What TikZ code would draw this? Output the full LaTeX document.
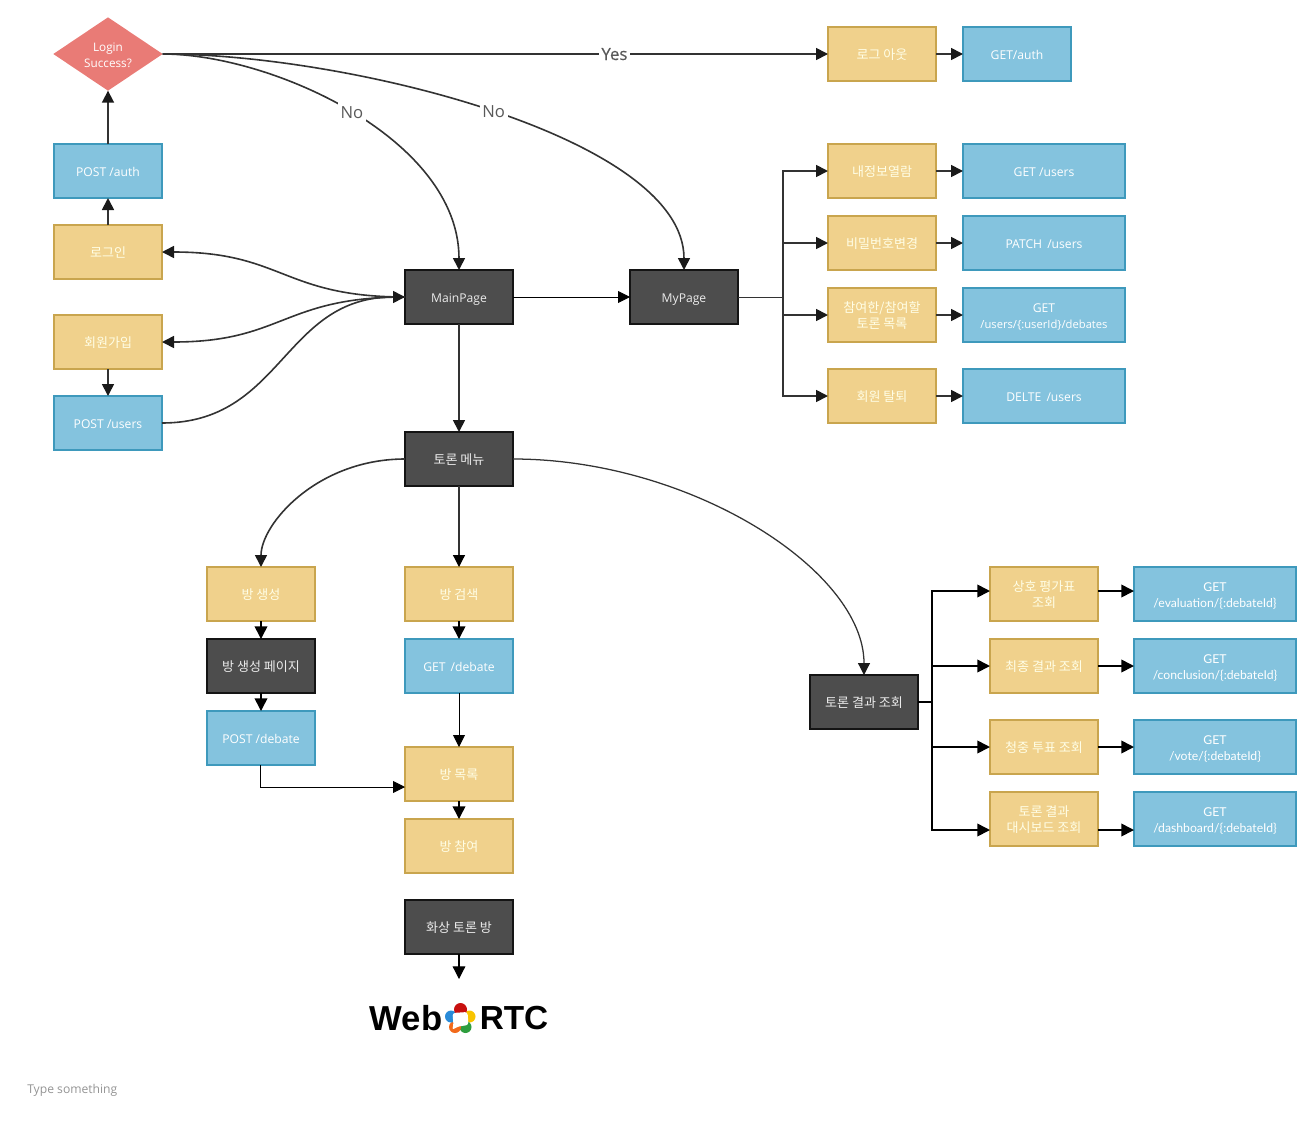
\documentclass[tikz,border=0pt]{standalone}
\usepackage{fontspec}
\setmainfont{Open Sans}
\newfontfamily\kr[Scale=1.075]{Noto Sans CJK KR}
\newfontfamily\logofont{Liberation Sans}
\newfontfamily\latoapi{Lato}
\newfontfamily\semi[FakeBold=0.4]{Open Sans}
\usetikzlibrary{arrows.meta,shapes.geometric}
\definecolor{yfill}{HTML}{F0D18C}
\definecolor{ydraw}{HTML}{C9A54E}
\definecolor{bfill}{HTML}{84C3DE}
\definecolor{bdraw}{HTML}{3E99BC}
\definecolor{dfill}{HTML}{4D4D4D}
\definecolor{ddraw}{HTML}{141414}
\definecolor{rfill}{HTML}{E97B76}
\definecolor{lnk}{HTML}{333333}
\definecolor{tip}{HTML}{1A1A1A}
\tikzset{
  x=0.75pt,y=-0.75pt,
  one/.style={text height=12pt,text depth=3.8pt},
  two/.style={text height=20.4pt,text depth=0pt},
  box/.style={rectangle,one,minimum width=81pt,minimum height=40.5pt,inner sep=0pt,outer sep=0pt,line width=1.5pt,align=center,text=white,font=\fontsize{9.1}{12.4}\selectfont},
  ybox/.style={box,fill=yfill,draw=ydraw,text=white!90!yellow},
  bbox/.style={box,fill=bfill,draw=bdraw},
  dbox/.style={box,fill=dfill,draw=ddraw,text=white!92!black},
  wide/.style={minimum width=121.5pt},
  api/.style={font=\latoapi\fontsize{9.15}{12.4}\selectfont},
  arr/.style={-{Triangle[length=9pt,width=9pt,color=tip]},draw=lnk,line width=1.3pt},
  curve/.style={arr,line width=1.2pt},
  barr/.style={-{Triangle[length=9.5pt,width=9.5pt]},draw=black,line width=1.2pt},
  thin arr/.style={-{Triangle[length=9pt,width=9pt,color=black]},draw=black,line width=.65pt},
  lbl/.style={fill=white,text=black!65,inner sep=2pt,text height=11pt,text depth=2pt,font=\fontsize{12.5}{14}\selectfont},
}
\begin{document}
\begin{tikzpicture}
\useasboundingbox (0,0) rectangle (1314,1125);
% nodes
\node[diamond,aspect=1.5,fill=rfill,minimum width=82pt,minimum height=55pt,inner sep=0pt,outer sep=0pt,align=center,two,text=white,font=\fontsize{8.8}{12}\selectfont] (d) at (108,54) {Login\\Success?};
\node[bbox] (auth) at (108,171) {POST /auth};
\node[ybox] (login) at (108,252) {\kr 로그인};
\node[ybox] (join) at (108,342) {\kr 회원가입};
\node[bbox] (pusers) at (108,423) {POST /users};
\node[dbox] (main) at (459,297) {MainPage};
\node[dbox] (my) at (684,297) {MyPage};
\node[dbox] (menu) at (459,459) {\kr 토론 메뉴};
\node[ybox] (logout) at (882,54) {\kr 로그 아웃};
\node[bbox] (gauth) at (1017,54) {GET/auth};
\node[ybox] (info) at (882,171) {\kr 내정보열람};
\node[bbox,wide] (gusers) at (1044,171) {GET /users};
\node[ybox] (pw) at (882,243) {\kr 비밀번호변경};
\node[bbox,wide] (patch) at (1044,243) {PATCH \,/users};
\node[ybox,two] (list) at (882,315) {\kr 참여한/참여할\\\kr 토론 목록};
\node[bbox,wide,two] (gdeb) at (1044,315) {GET\\\fontsize{8.4}{12.4}\selectfont /users/\{:userId\}/debates};
\node[ybox] (quit) at (882,396) {\kr 회원 탈퇴};
\node[bbox,wide] (del) at (1044,396) {DELTE \,/users};
\node[ybox] (mk) at (261,594) {\kr 방 생성};
\node[dbox] (mkp) at (261,666) {\kr 방 생성 페이지};
\node[bbox] (pdeb) at (261,738) {POST /debate};
\node[ybox] (find) at (459,594) {\kr 방 검색};
\node[bbox] (gd) at (459,666) {GET \,/debate};
\node[ybox] (rooms) at (459,774) {\kr 방 목록};
\node[ybox] (enter) at (459,846) {\kr 방 참여};
\node[dbox] (video) at (459,927) {\kr 화상 토론 방};
\node[dbox] (res) at (864,702) {\kr 토론 결과 조회};
\node[ybox,two] (r1) at (1044,594) {\kr 상호 평가표\\\kr 조회};
\node[ybox] (r2) at (1044,666) {\kr 최종 결과 조회};
\node[ybox] (r3) at (1044,747) {\kr 청중 투표 조회};
\node[ybox,two] (r4) at (1044,819) {\kr 토론 결과\\\kr 대시보드 조회};
\node[bbox,wide,two,api] (a1) at (1215,594) {GET\\/evaluation/\{:debateId\}};
\node[bbox,wide,two,api] (a2) at (1215,666) {GET\\/conclusion/\{:debateId\}};
\node[bbox,wide,two,api] (a3) at (1215,747) {GET\\/vote/\{:debateId\}};
\node[bbox,wide,two,api] (a4) at (1215,819) {GET\\/dashboard/\{:debateId\}};
\node[anchor=west,inner sep=0pt,text=black!42,font=\fontsize{9.1}{12}\selectfont] (hint) at (27,1090) {Type something};
% free ends
\coordinate (t1) at (783,297);
\coordinate (t2) at (932,702);
\coordinate (vend) at (459,979);
% connectors
\draw[arr] (auth.north) -- (d.south);
\draw[arr] (login.north) -- (auth.south);
\draw[arr] (join.south) -- (pusers.north);
\draw[arr] (d.east) -- node[lbl,font=\semi\fontsize{12.6}{14}\selectfont,pos=.679] {Yes} (logout.west);
\draw[curve] (d.east) .. controls (272,54) and (459,139) .. node[lbl,pos=.5] {No} (main.north);
\draw[curve] (d.east) .. controls (350,54) and (684,138) .. node[lbl,pos=.5,yshift=1pt] {No} (my.north);
\draw[curve] (main.west) .. controls (283,297) and (283,252) .. (login.east);
\draw[curve] (main.west) .. controls (283,297) and (283,342) .. (join.east);
\draw[curve] (pusers.east) .. controls (283,423) and (283,297) .. (main.west);
\draw[thin arr] (main.east) -- (my.west);
\draw[arr] (main.south) -- (menu.north);
\draw[draw=lnk,line width=.65pt] (my.east) -- (t1);
\draw[arr] (t1) |- (info.west);
\draw[arr] (t1) |- (pw.west);
\draw[arr] (t1) |- (list.west);
\draw[arr] (t1) |- (quit.west);
\draw[arr] (logout.east) -- (gauth.west);
\draw[arr] (info.east) -- (gusers.west);
\draw[arr] (pw.east) -- (patch.west);
\draw[arr] (list.east) -- (gdeb.west);
\draw[arr] (quit.east) -- (del.west);
\draw[curve] (menu.west) .. controls (317,459) and (261,524) .. (mk.north);
\draw[thin arr,draw=lnk,line width=.9pt] (menu.south) -- (find.north);
\draw[curve,line width=.95pt] (menu.east) .. controls (690,459) and (864,570) .. (res.north);
\draw[barr] (mk.south) -- (mkp.north);
\draw[barr] (mkp.south) -- (pdeb.north);
\draw[barr] (find.south) -- (gd.north);
\draw[thin arr] (gd.south) -- (rooms.north);
\draw[thin arr] ([xshift=-.6pt]pdeb.south) |- ([yshift=-9.75pt]rooms.west);
\draw[barr] (rooms.south) -- (enter.north);
\draw[barr,line width=.9pt] (video.south) -- (vend);
\draw[line width=1.2pt] (res.east) -- (t2);
\draw[barr] (t2) |- ([yshift=2.25pt]r1.west);
\draw[barr] (t2) |- (r2.west);
\draw[barr] (t2) |- (r3.west);
\draw[barr] (t2) |- ([yshift=-8.25pt]r4.west);
\draw[barr] ([yshift=2.25pt]r1.east) -- ([yshift=2.25pt]a1.west);
\draw[barr] (r2.east) -- (a2.west);
\draw[barr] (r3.east) -- (a3.west);
\draw[barr] ([yshift=-8.25pt]r4.east) -- ([yshift=-8.25pt]a4.west);
% WebRTC logo
\node[anchor=east,inner sep=0pt,font=\logofont\bfseries\fontsize{26}{30}\selectfont] (web) at (442.5,1018) {Web};
\node[anchor=west,inner sep=0pt,font=\logofont\bfseries\fontsize{25}{30}\selectfont] (rtc) at (479.5,1018) {RTC};
\definecolor{lred}{HTML}{C8100F}
\definecolor{lyel}{HTML}{F8C400}
\definecolor{lgrn}{HTML}{2E9E3E}
\definecolor{lorg}{HTML}{F26A1B}
\definecolor{lblu}{HTML}{2A8BD8}
\fill[lyel] (469.5,1016.5) circle (6);
\fill[lgrn] (465.5,1027) circle (6);
\fill[lorg] (455,1027) circle (6);
\fill[lblu] (451,1016.5) circle (6);
\fill[lred] (460.5,1009.5) circle (6.5);
\fill[white,rounded corners=2pt] (452.5,1013) -- (467.5,1012) -- (468.5,1025) -- (458,1026.5) -- (452,1030) -- (453.5,1025.5) -- cycle;
\end{tikzpicture}
\end{document}
